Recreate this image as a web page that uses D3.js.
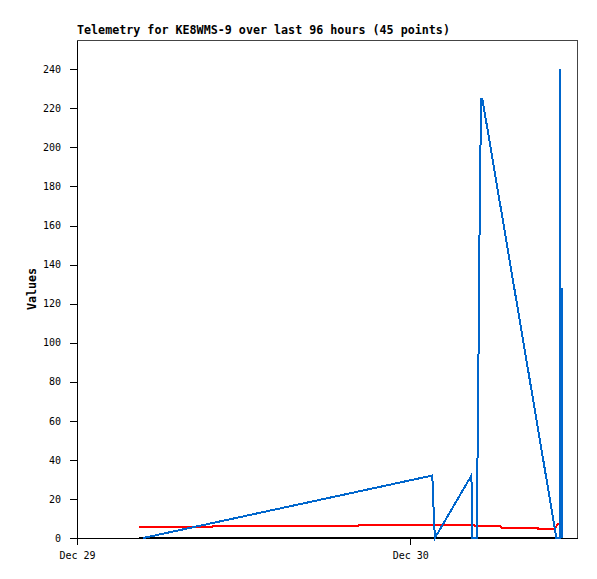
<!DOCTYPE html>
<html>
<head>
<meta charset="utf-8">
<script src="https://cdn.jsdelivr.net/npm/d3@7"></script>
<style>
  html, body { margin: 0; padding: 0; background: #fff; }
  svg { display: block; }
</style>
</head>
<body>
<svg id="chart" width="597" height="579"></svg>
<script>
const titleText = "Telemetry for KE8WMS-9 over last 96 hours (45 points)";
const yLabel = "Values";
const xDomain = ["2023-12-29 00:00", "2023-12-30 12:00"];
const xTickLabels = ["2023-12-29 00:00", "2023-12-30 00:00"];
const yTicks = [0, 20, 40, 60, 80, 100, 120, 140, 160, 180, 200, 220, 240];
const yMax = 255;

// blue series
const blueTimes = ["2023-12-29 04:46", "2023-12-30 01:35", "2023-12-30 01:40", "2023-12-30 01:46",
  "2023-12-30 04:24", "2023-12-30 04:27", "2023-12-30 04:50", "2023-12-30 04:50",
  "2023-12-30 04:56", "2023-12-30 05:01", "2023-12-30 05:07", "2023-12-30 05:11",
  "2023-12-30 10:31", "2023-12-30 10:45", "2023-12-30 10:46", "2023-12-30 10:47",
  "2023-12-30 10:54", "2023-12-30 10:55"];
const blueValues = [0, 32, 16, 0, 32, 0, 0, 38, 112, 187, 225, 225, 0, 0, 240, 0, 128, 0];

// red series
const redTimes = ["2023-12-29 04:28", "2023-12-29 09:45", "2023-12-29 09:50", "2023-12-29 20:15",
  "2023-12-29 20:20", "2023-12-30 04:35", "2023-12-30 04:38", "2023-12-30 06:30",
  "2023-12-30 06:33", "2023-12-30 09:10", "2023-12-30 09:13", "2023-12-30 10:25",
  "2023-12-30 10:36", "2023-12-30 10:56"];
const redValues = [5.8, 5.8, 6.1, 6.1, 6.8, 6.8, 6.0, 6.0, 5.3, 5.3, 4.6, 4.6, 7.0, 7.0];

// black series
const blackTimes = ["2023-12-29 04:28", "2023-12-30 10:56"];
const blackValues = [0, 0];

const parse = d3.timeParse("%Y-%m-%d %H:%M");
const svg = d3.select("#chart");
const mono = "'DejaVu Sans Mono', 'Liberation Mono', monospace";

const x = d3.scaleTime().domain(xDomain.map(parse)).range([77, 577]);
const y = d3.scaleLinear().domain([0, yMax]).range([538, 40]);

// frame top/right
svg.append("line").attr("x1", 77).attr("x2", 577).attr("y1", y(yMax) + 0.5).attr("y2", y(yMax) + 0.5)
  .attr("stroke", "#444").attr("shape-rendering", "crispEdges");
svg.append("line").attr("x1", 577.5).attr("x2", 577.5).attr("y1", y(yMax)).attr("y2", y(0))
  .attr("stroke", "#444").attr("shape-rendering", "crispEdges");

// axes
const yAxis = svg.append("g").attr("transform", "translate(77,0)")
  .call(d3.axisLeft(y).tickValues(yTicks).tickSize(7).tickSizeOuter(0).tickPadding(9).tickFormat(d3.format("d")));
const xAxis = svg.append("g").attr("transform", `translate(0,${y(0)})`)
  .call(d3.axisBottom(x).tickValues(xTickLabels.map(parse)).tickSize(7).tickSizeOuter(0).tickPadding(7)
    .tickFormat(d3.timeFormat("%b %d")));
[yAxis, xAxis].forEach(g => {
  g.selectAll("path, line").attr("stroke", "#000").attr("shape-rendering", "crispEdges");
  g.selectAll("text").attr("font-family", mono).attr("font-size", "10px").attr("fill", "#000");
});

const line = d3.line().x(d => x(d.t)).y(d => y(d.v));
function series(times, values, color, w) {
  const data = times.map((t, i) => ({ t: parse(t), v: values[i] }));
  svg.append("path").datum(data).attr("d", line).attr("fill", "none")
    .attr("stroke", color).attr("stroke-width", w).attr("shape-rendering", "crispEdges");
}
series(blackTimes, blackValues, "#000", 2);
series(redTimes, redValues, "#ff0000", 2);
series(blueTimes, blueValues, "#0066cc", 2);

// title
svg.append("text").attr("x", 77).attr("y", 34).text(titleText)
  .attr("font-family", mono).attr("font-weight", "bold").attr("font-size", "11.7px").attr("fill", "#000");

// y label
svg.append("text").attr("transform", "translate(36,289) rotate(-90)")
  .attr("text-anchor", "middle").text(yLabel)
  .attr("font-family", mono).attr("font-weight", "bold").attr("font-size", "11.7px").attr("fill", "#000");
</script>
</body>
</html>
